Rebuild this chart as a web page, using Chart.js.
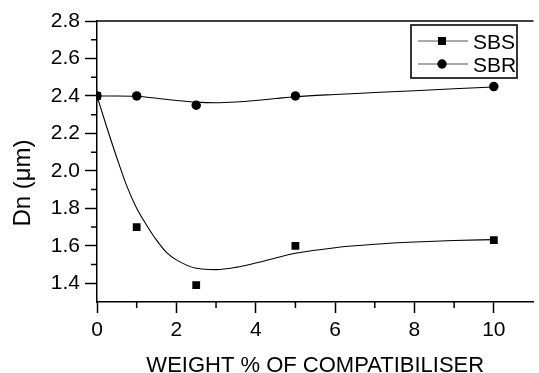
<!DOCTYPE html>
<html>
<head>
<meta charset="utf-8">
<script src="https://cdn.jsdelivr.net/npm/chart.js@4"></script>
<style>
  html, body { margin: 0; padding: 0; background: #fff; }
  #wrap { width: 539px; height: 373px; }
</style>
</head>
<body>
<div id="wrap"><canvas id="myChart" width="539" height="373"></canvas></div>
<script>
'use strict'

// measured points
const sbsX = [0, 1, 2.5, 5, 10];
const sbsY = [2.40, 1.70, 1.39, 1.60, 1.63];
const sbrX = [0, 1, 2.5, 5, 10];
const sbrY = [2.40, 2.40, 2.35, 2.40, 2.45];

// fitted curves
const sbsFitX = [0, 0.25, 0.5, 0.75, 1, 1.25, 1.5, 1.75, 2, 2.5, 3, 3.5, 4, 4.5, 5, 6, 7, 8, 9, 10];
const sbsFitY = [2.40, 2.23, 2.07, 1.92, 1.80, 1.71, 1.63, 1.565, 1.525, 1.48, 1.473, 1.485, 1.508, 1.535, 1.56, 1.59, 1.608, 1.62, 1.628, 1.633];
const sbrFitX = [0, 0.5, 1, 1.5, 2, 2.5, 3, 3.5, 4, 4.5, 5, 6, 7, 8, 9, 10];
const sbrFitY = [2.40, 2.40, 2.398, 2.388, 2.376, 2.367, 2.364, 2.368, 2.376, 2.386, 2.396, 2.408, 2.418, 2.428, 2.438, 2.448];

// axes
const xTicks = [0, 2, 4, 6, 8, 10];
const xMinor = [1, 3, 5, 7, 9];
const yTicks = [1.4, 1.6, 1.8, 2.0, 2.2, 2.4, 2.6, 2.8];
const yMinor = [1.5, 1.7, 1.9, 2.1, 2.3, 2.5, 2.7];

const seriesNames = ["SBS", "SBR"];

const FONT = "'Liberation Sans', Arial, sans-serif";

function toXY(xs, ys) {
    return xs.map((x, i) => ({ x: x, y: ys[i] }));
}

// 補助目盛り・上枠線・y軸タイトル・凡例
const extras = {
    id: 'extras',
    afterDraw(chart) {
        const c = chart.ctx;
        const xs = chart.scales.x;
        const ys = chart.scales.y;
        const area = chart.chartArea;
        c.save();
        c.strokeStyle = '#000';
        c.lineWidth = 1.5;
        c.beginPath();
        xMinor.forEach(v => {
            const px = xs.getPixelForValue(v);
            c.moveTo(px, area.bottom);
            c.lineTo(px, area.bottom + 6);
        });
        yMinor.forEach(v => {
            const py = ys.getPixelForValue(v);
            c.moveTo(area.left, py);
            c.lineTo(area.left - 6, py);
        });
        c.stroke();

        // top frame
        c.lineWidth = 1.5;
        c.beginPath();
        c.moveTo(area.left, area.top);
        c.lineTo(area.right, area.top);
        c.stroke();

        // y title
        c.fillStyle = '#000';
        c.font = '24px ' + FONT;
        c.textAlign = 'center';
        c.textBaseline = 'middle';
        c.translate(23, 183);
        c.rotate(-Math.PI / 2);
        c.fillText('Dn (\u03bcm)', 0, 0);
        c.setTransform(1, 0, 0, 1, 0, 0);

        // legend
        c.lineWidth = 1.8;
        c.strokeStyle = '#222';
        c.strokeRect(411, 25, 106, 53);
        c.font = '21px ' + FONT;
        c.textAlign = 'left';
        c.textBaseline = 'alphabetic';
        seriesNames.forEach((name, i) => {
            const y = 41 + i * 23;
            c.strokeStyle = '#555';
            c.lineWidth = 1;
            c.beginPath();
            c.moveTo(418, y);
            c.lineTo(468, y);
            c.stroke();
            c.fillStyle = '#000';
            if (i === 0) {
                c.fillRect(438, y - 4, 8, 8);
            } else {
                c.beginPath();
                c.arc(442, y, 4.7, 0, Math.PI * 2);
                c.fill();
            }
            c.fillText(name, 473, y + 7.5);
        });
        c.restore();
    }
};

new Chart(document.getElementById('myChart'), {
    type: 'scatter',
    data: {
        datasets: [
            {
                label: 'SBS fit',
                data: toXY(sbsFitX, sbsFitY),
                showLine: true,
                borderColor: '#000',
                borderWidth: 1.1,
                pointRadius: 0,
                cubicInterpolationMode: 'monotone'
            },
            {
                label: 'SBR fit',
                data: toXY(sbrFitX, sbrFitY),
                showLine: true,
                borderColor: '#000',
                borderWidth: 1.1,
                pointRadius: 0,
                cubicInterpolationMode: 'monotone'
            },
            {
                label: seriesNames[0],
                data: toXY(sbsX, sbsY),
                pointStyle: 'rect',
                pointRadius: 5.5,
                backgroundColor: '#000',
                borderColor: '#000',
                borderWidth: 0
            },
            {
                label: seriesNames[1],
                data: toXY(sbrX, sbrY),
                pointStyle: 'circle',
                pointRadius: 4.7,
                backgroundColor: '#000',
                borderColor: '#000',
                borderWidth: 0
            }
        ]
    },
    options: {
        responsive: false,
        animation: false,
        layout: { padding: { top: 21, right: 0, left: 0, bottom: 0 } },
        plugins: {
            legend: { display: false },
            tooltip: { enabled: false }
        },
        scales: {
            x: {
                type: 'linear',
                min: 0,
                max: 11,
                afterBuildTicks: (s) => { s.ticks = xTicks.map(v => ({ value: v })); },
                afterFit: (s) => { s.height = 71; },
                grid: { drawOnChartArea: false, tickLength: 11, tickWidth: 1.5, tickColor: '#000' },
                border: { color: '#000', width: 1.5 },
                ticks: {
                    color: '#000',
                    font: { family: FONT, size: 21 },
                    padding: 5,
                    maxRotation: 0,
                    callback: (v) => String(v)
                },
                title: {
                    display: true,
                    text: 'WEIGHT % OF COMPATIBILISER',
                    color: '#000',
                    font: { family: FONT, size: 22, lineHeight: 1 },
                    padding: { top: 0, bottom: -4 }
                }
            },
            y: {
                type: 'linear',
                min: 1.3,
                max: 2.8,
                afterBuildTicks: (s) => { s.ticks = yTicks.map(v => ({ value: v })); },
                afterFit: (s) => { s.width = 97; },
                grid: { drawOnChartArea: false, tickLength: 12, tickWidth: 1.5, tickColor: '#000' },
                border: { color: '#000', width: 1.5 },
                ticks: {
                    color: '#000',
                    font: { family: FONT, size: 21 },
                    padding: 5,
                    callback: (v) => v.toFixed(1)
                }
            }
        }
    },
    plugins: [extras]
});
</script>
</body>
</html>
